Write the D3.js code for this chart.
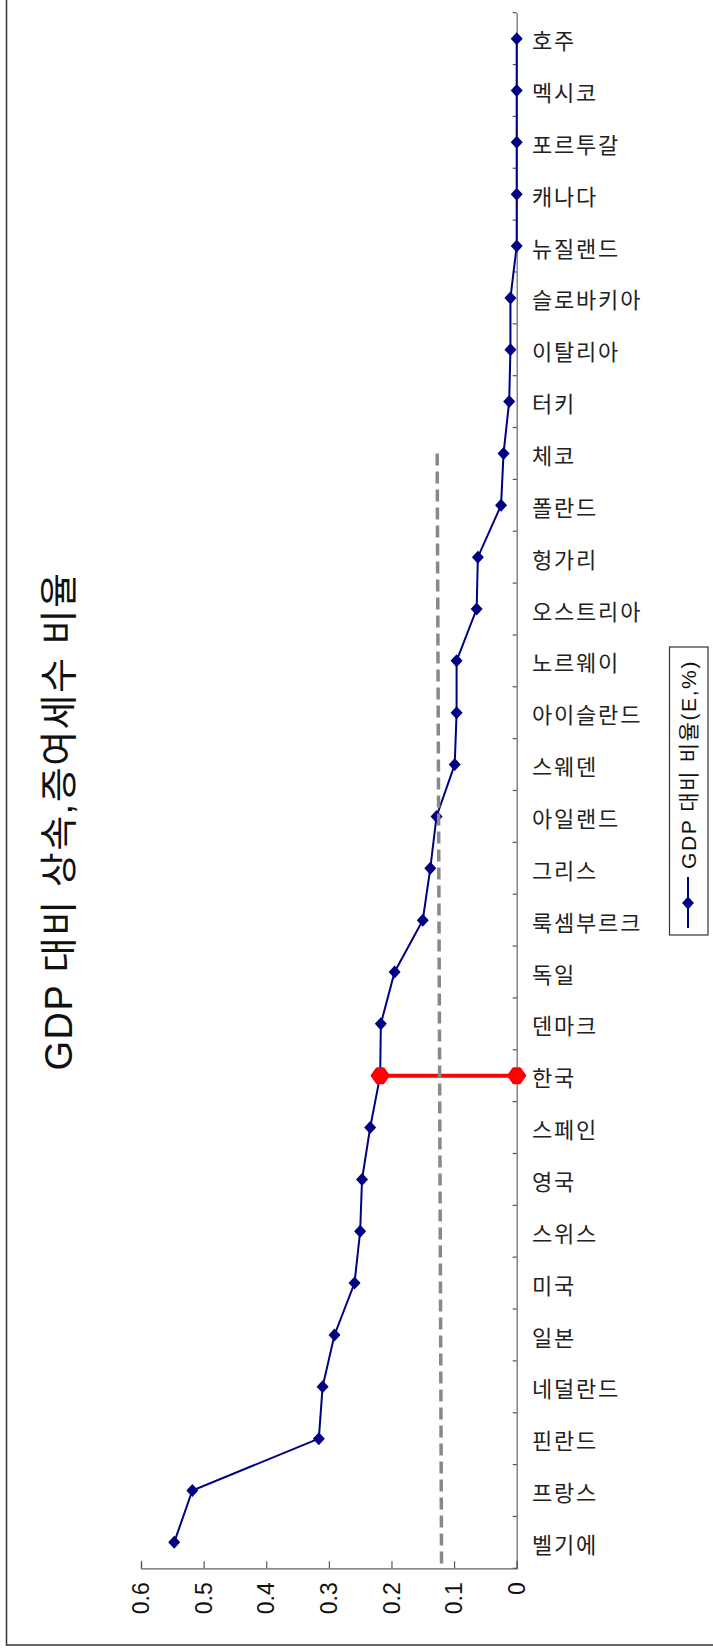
<!DOCTYPE html>
<html>
<head>
<meta charset="utf-8">
<script src="https://cdn.jsdelivr.net/npm/d3@7"></script>
<style>
  html, body { margin: 0; padding: 0; background: #fff; }
  svg { display: block; }
  text { font-family: "Liberation Sans", Arial, "Noto Sans CJK KR", sans-serif; }
</style>
</head>
<body>
<svg id="chart" width="713" height="1652"></svg>
<script>
// Countries, top to bottom along the category axis
const categories = ['호주','멕시코','포르투갈','캐나다','뉴질랜드','슬로바키아','이탈리아','터키','체코','폴란드',
  '헝가리','오스트리아','노르웨이','아이슬란드','스웨덴','아일랜드','그리스','룩셈부르크','독일','덴마크',
  '한국','스페인','영국','스위스','미국','일본','네덜란드','핀란드','프랑스','벨기에'];

// Inheritance & gift tax revenue as a share of GDP
const ratios = [0, 0, 0, 0, 0, 0.010, 0.010, 0.012, 0.021, 0.025,
  0.062, 0.064, 0.096, 0.096, 0.099, 0.128, 0.138, 0.150, 0.195, 0.217,
  0.218, 0.234, 0.247, 0.250, 0.259, 0.291, 0.310, 0.316, 0.518, 0.547];

// Highlighted gap for Korea: from its value down to zero
const highlightCategory = '한국';
const highlightValues = [0.218, 0];

// Average reference line (start value at 체코, end value at the axis)
const averageStartCategory = '체코';
const averageValues = [0.127, 0.120];

const valueTicks = [0, 0.1, 0.2, 0.3, 0.4, 0.5, 0.6];
const titleText = 'GDP 대비 상속,증여세수 비율';
const legendText = 'GDP 대비 비율(E,%)';

const svg = d3.select('#chart');

// Outer frame (left and bottom edges visible)
svg.append('rect')
  .attr('x', 6.5).attr('y', -5).attr('width', 720).attr('height', 1650)
  .attr('fill', 'none').attr('stroke', '#333').attr('stroke-width', 1.5);

const y = d3.scaleBand().domain(categories).range([12.7, 1568.3]).padding(0);
const x = d3.scaleLinear().domain([0, 0.6]).range([516.7, 141]);
const yc = c => y(c) + y.bandwidth() / 2;

// Category axis (vertical line with ticks on band boundaries)
const catAxis = d3.axisLeft(y).tickSize(0).tickFormat('');
const gCat = svg.append('g').attr('transform', `translate(${x(0)},0)`).call(catAxis);
gCat.select('.domain').attr('stroke', '#666').attr('stroke-width', 1.2);
const bounds = categories.map(c => y(c)).concat([y.range()[1]]);
svg.append('g').selectAll('line').data(bounds).join('line')
  .attr('x1', x(0) - 4).attr('x2', x(0))
  .attr('y1', d => d).attr('y2', d => d)
  .attr('stroke', '#555').attr('stroke-width', 1.2);

// Value axis along the bottom
const valAxis = d3.axisTop(x).tickValues(valueTicks).tickSize(7).tickFormat('');
const gVal = svg.append('g').attr('transform', `translate(0,${y.range()[1]})`).call(valAxis);
gVal.select('.domain').attr('stroke', '#666').attr('stroke-width', 1.2);
gVal.selectAll('.tick line').attr('stroke', '#555').attr('stroke-width', 1.2);

// Value tick labels, rotated to read bottom-to-top
svg.append('g').selectAll('text').data(valueTicks).join('text')
  .attr('transform', d => `translate(${x(d)},${y.range()[1] + 14}) rotate(-90)`)
  .attr('text-anchor', 'end').attr('dy', '0.35em')
  .attr('font-size', 23).attr('fill', '#111')
  .text(d => d === 0 ? '0' : d3.format('.1f')(d));

// Category labels
svg.append('g').selectAll('text').data(categories).join('text')
  .attr('x', 532).attr('y', d => yc(d)).attr('dy', '0.48em')
  .attr('font-size', 22).attr('fill', '#222')
  .attr('letter-spacing', 1.8)
  .style('font-family', '"Noto Sans CJK KR", sans-serif')
  .text(d => d);

// Main series
const diamond = 'M0,-6.5L6,0L0,6.5L-6,0Z';
const line = d3.line().x(d => x(d.v)).y(d => yc(d.c));
const pts = categories.map((c, i) => ({ c, v: ratios[i] }));
svg.append('path').datum(pts).attr('d', line)
  .attr('fill', 'none').attr('stroke', '#000080').attr('stroke-width', 2);
svg.append('g').selectAll('path').data(pts).join('path')
  .attr('d', diamond)
  .attr('transform', d => `translate(${x(d.v)},${yc(d.c)})`)
  .attr('fill', '#000080');

// Korea highlight segment
const hl = highlightValues.map(v => ({ c: highlightCategory, v }));
svg.append('path').datum(hl).attr('d', line)
  .attr('fill', 'none').attr('stroke', '#ff0000').attr('stroke-width', 4);
svg.append('g').selectAll('path').data(hl).join('path')
  .attr('d', 'M-3,-7L3,-7L8,0L3,7L-3,7L-8,0Z')
  .attr('transform', d => `translate(${x(d.v)},${yc(d.c)})`)
  .attr('fill', '#ff0000').attr('stroke', '#ff0000')
  .attr('stroke-width', 3).attr('stroke-linejoin', 'round');

// Average dashed line
svg.append('line')
  .attr('x1', x(averageValues[0])).attr('y1', yc(averageStartCategory))
  .attr('x2', x(averageValues[1])).attr('y2', y.range()[1] - 1)
  .attr('stroke', '#888').attr('stroke-width', 3.5)
  .attr('stroke-dasharray', '12,6');

// Title
svg.append('text')
  .attr('transform', 'translate(72,821) rotate(-90)')
  .attr('text-anchor', 'middle')
  .attr('font-size', 38).attr('fill', '#111')
  .attr('letter-spacing', 1.5)
  .text(titleText);

// Legend
const lg = svg.append('g');
lg.append('rect').attr('x', 669.5).attr('y', 647).attr('width', 38.5).attr('height', 288)
  .attr('fill', '#fff').attr('stroke', '#333').attr('stroke-width', 1.2);
lg.append('line').attr('x1', 688).attr('x2', 688).attr('y1', 877).attr('y2', 928)
  .attr('stroke', '#000080').attr('stroke-width', 2);
lg.append('path').attr('d', diamond).attr('transform', 'translate(688,903)').attr('fill', '#000080');
lg.append('text')
  .attr('transform', 'translate(696,869) rotate(-90)')
  .attr('font-size', 21).attr('fill', '#111')
  .attr('letter-spacing', 1.6)
  .text(legendText);
</script>
</body>
</html>
